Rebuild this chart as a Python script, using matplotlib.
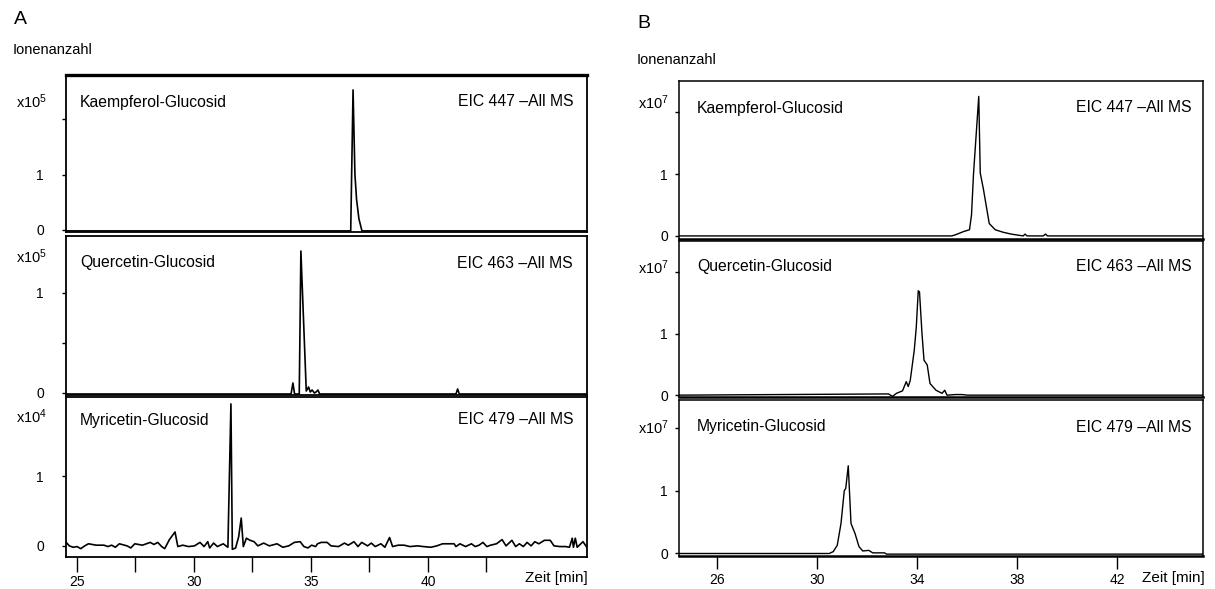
import matplotlib
matplotlib.use("Agg")
import matplotlib.pyplot as plt

plt.rcParams['font.family'] = ['Liberation Sans', 'DejaVu Sans']
plt.rcParams['mathtext.fontset'] = 'custom'
plt.rcParams['mathtext.rm'] = 'Liberation Sans'
plt.rcParams['mathtext.it'] = 'Liberation Sans'

# ---------------- data (panel A) ----------------
a_kae_t = [24.5, 36.70, 36.80, 36.88, 36.95, 37.05, 37.18, 46.9]
a_kae_y = [-0.02, -0.02, 2.53, 1.0, 0.55, 0.2, -0.02, -0.02]

a_que_t = [24.5, 34.15, 34.23, 34.30, 34.37, 34.50, 34.57, 34.80, 34.90, 34.97,
           35.05, 35.15, 35.22, 35.30, 35.37, 41.20, 41.27, 41.34, 46.9]
a_que_y = [-0.01, -0.01, 0.10, -0.01, -0.01, -0.01, 1.42, 0.02, 0.06, 0.01,
           0.03, 0.0, 0.01, 0.03, -0.01, -0.01, 0.04, -0.01, -0.01]

a_myr_t = [24.54, 24.67, 24.84, 25.00, 25.16, 25.33, 25.49, 25.82, 26.15, 26.32,
           26.48, 26.64, 26.81, 27.14, 27.30, 27.47, 27.80, 28.13, 28.29, 28.45,
           28.62, 28.75, 28.95, 29.19, 29.31, 29.52, 29.77, 30.02, 30.26, 30.43,
           30.59, 30.67, 30.84, 31.00, 31.25, 31.45, 31.58, 31.64, 31.78, 31.91,
           32.02, 32.11, 32.24, 32.40, 32.57, 32.73, 32.98, 33.22, 33.55, 33.80,
           34.05, 34.29, 34.54, 34.70, 34.87, 35.03, 35.20, 35.28, 35.44, 35.69,
           35.86, 36.18, 36.43, 36.60, 36.84, 37.01, 37.17, 37.42, 37.58, 37.75,
           37.99, 38.16, 38.36, 38.49, 38.73, 38.98, 39.23, 39.56, 39.80, 40.13,
           40.38, 40.63, 40.95, 41.12, 41.20, 41.37, 41.61, 41.86, 42.02, 42.19,
           42.35, 42.52, 42.68, 42.93, 43.17, 43.34, 43.59, 43.75, 43.91, 44.08,
           44.24, 44.41, 44.57, 44.74, 44.98, 45.23, 45.39, 45.64, 45.89, 46.05,
           46.17, 46.22, 46.30, 46.38, 46.63, 46.79, 46.88]
a_myr_y = [0.05, 0, -0.02, -0.01, -0.04, 0, 0.03, 0.01, 0.01, -0.01,
           0.01, -0.02, 0.03, 0, -0.03, 0.03, 0.01, 0.05, 0.02, 0.05,
           -0.01, -0.04, 0.09, 0.2, -0.01, 0.01, -0.01, 0, 0.05, -0.01,
           0.06, -0.03, 0.04, -0.01, 0.03, -0.02, 2.04, -0.05, -0.03, 0.13,
           0.4, -0.01, 0.11, 0.08, 0.06, 0, 0.04, 0, 0.03, -0.02,
           0, 0.05, 0.06, -0.01, -0.03, 0.01, -0.01, 0.03, 0.05, 0.05,
           0, -0.01, 0.04, 0.01, 0.06, -0.01, 0.05, 0, 0.04, -0.01,
           0.03, -0.02, 0.12, -0.01, 0.01, 0.01, -0.01, 0, -0.01, -0.02,
           0, 0.03, 0.03, 0.03, -0.01, 0.03, -0.01, 0.03, -0.01, 0.01,
           0.05, -0.01, 0.01, 0.03, 0.09, 0, 0.08, -0.01, 0.03, -0.01,
           0.05, 0, 0.06, 0.03, 0.08, 0.08, 0, -0.01, -0.01, -0.02,
           0.11, -0.02, 0.11, -0.02, 0.06, -0.02, -0.01]

# ---------------- data (panel B) ----------------
b_kae_t = [24.4, 35.39, 35.55, 35.86, 36.10, 36.18, 36.26, 36.47, 36.53, 36.66,
           36.89, 37.13, 37.44, 37.76, 38.08, 38.25, 38.32, 38.40, 38.71, 39.05,
           39.14, 39.22, 45.5]
b_kae_y = [0, 0, 0.02, 0.07, 0.10, 0.34, 1.0, 2.26, 1.02, 0.75,
           0.2, 0.10, 0.06, 0.03, 0.01, 0.0, 0.03, 0.0, 0.0, 0.0,
           0.03, 0.0, 0]

b_que_t = [24.4, 32.86, 33.02, 33.18, 33.42, 33.57, 33.65, 33.73, 33.89, 33.97,
           34.05, 34.10, 34.20, 34.28, 34.41, 34.52, 34.76, 35.00, 35.11, 35.20,
           35.55, 35.79, 36.02, 45.5]
b_que_y = [0, 0.02, -0.02, 0.03, 0.07, 0.22, 0.14, 0.24, 0.73, 1.1,
           1.7, 1.68, 1.0, 0.57, 0.49, 0.19, 0.08, 0.03, 0.08, 0.0,
           0.01, 0.01, 0, 0]

b_myr_t = [24.4, 30.49, 30.65, 30.81, 30.96, 31.09, 31.15, 31.25, 31.31, 31.36,
           31.52, 31.68, 31.83, 32.07, 32.23, 32.70, 32.78, 45.5]
b_myr_y = [0, 0, 0.03, 0.13, 0.48, 1.0, 1.04, 1.4, 0.9, 0.48,
           0.32, 0.11, 0.04, 0.05, 0.01, 0.01, -0.01, -0.01]

names = ["Kaempferol-Glucosid", "Quercetin-Glucosid", "Myricetin-Glucosid"]
eics = ["EIC 447 \u2013All MS", "EIC 463 \u2013All MS", "EIC 479 \u2013All MS"]
a_exp = ["5", "5", "4"]
b_exp = ["7", "7", "7"]

a_xticks = [25, 27.5, 30, 32.5, 35, 37.5, 40, 42.5]
a_xlabels = ["25", "", "30", "", "35", "", "40", ""]
b_xticks = [26, 30, 34, 38, 42]
b_xlabels = ["26", "30", "34", "38", "42"]

# ---------------- layout ----------------
W, H = 1215, 589
fig = plt.figure(figsize=(W / 100, H / 100), dpi=100)


def rect(l, t, r, b):
    return [l / W, 1 - b / H, (r - l) / W, (b - t) / H]


def fx(x):
    return x / W


def fy(y):
    return 1 - y / H


a_rows = [(75, 232), (236, 395), (397, 557)]
b_rows = [(81, 239), (241, 397), (400, 556)]
a_ylims = [(-0.04, 2.8), (-0.02, 1.57), (-0.16, 2.14)]
b_ylims = [(-0.05, 2.51), (-0.03, 2.51), (-0.04, 2.45)]
a_yticks = [([0, 1, 2], ["0", "1", ""]), ([0, 0.5, 1], ["0", "", "1"]), ([0, 1], ["0", "1"])]
b_yticks = [([0, 1, 2], ["0", "1", ""])] * 3

a_data = [(a_kae_t, a_kae_y), (a_que_t, a_que_y), (a_myr_t, a_myr_y)]
b_data = [(b_kae_t, b_kae_y), (b_que_t, b_que_y), (b_myr_t, b_myr_y)]

a_label_y = [102, 263, 420]
a_exp_y = [102, 257, 417]
b_label_y = [108, 267, 427]
b_exp_y = [103, 268, 428]

# Panel A
for i, ((t, b), (xs, ys)) in enumerate(zip(a_rows, a_data)):
    ax = fig.add_axes(rect(66, t, 587, b))
    ax.plot(xs, ys, color="black", lw=1.2, clip_on=True)
    ax.set_xlim(24.53, 46.8)
    ax.set_ylim(*a_ylims[i])
    ax.set_yticks(a_yticks[i][0])
    ax.set_yticklabels(a_yticks[i][1], fontsize=10)
    ax.tick_params(axis="y", direction="out", length=3, width=1, pad=13)
    for s in ax.spines.values():
        s.set_linewidth(1.3)
    if i == 0:
        ax.spines["top"].set_linewidth(2.4)
    if i == 2:
        ax.set_xticks(a_xticks)
        ax.set_xticklabels(a_xlabels, fontsize=10)
        ax.tick_params(axis="x", direction="out", length=11, width=1, pad=2)
    else:
        ax.set_xticks([])
    fig.text(fx(80), fy(a_label_y[i]), names[i], fontsize=11.3, ha="left", va="center")
    fig.text(fx(573), fy(a_label_y[i]), eics[i], fontsize=11.3, ha="right", va="center")
    fig.text(fx(47), fy(a_exp_y[i]), "x10$^{" + a_exp[i] + "}$", fontsize=10.5,
             ha="right", va="center")

fig.text(fx(588), fy(578), "Zeit [min]", fontsize=11, ha="right", va="center")
fig.text(fx(14), fy(20), "A", fontsize=14, ha="left", va="center")
fig.text(fx(13), fy(50), "Ionenanzahl", fontsize=10.5, ha="left", va="center")

# Panel B
for i, ((t, b), (xs, ys)) in enumerate(zip(b_rows, b_data)):
    ax = fig.add_axes(rect(679, t, 1203, b))
    ax.plot(xs, ys, color="black", lw=1.0)
    ax.set_xlim(24.48, 45.44)
    ax.set_ylim(*b_ylims[i])
    ax.set_yticks(b_yticks[i][0])
    ax.set_yticklabels(b_yticks[i][1], fontsize=10)
    ax.tick_params(axis="y", direction="out", length=3, width=1, pad=5)
    for s in ax.spines.values():
        s.set_linewidth(1.1)
    ax.spines["bottom"].set_linewidth(1.8)
    if i == 2:
        ax.set_xticks(b_xticks)
        ax.set_xticklabels(b_xlabels, fontsize=10)
        ax.tick_params(axis="x", direction="out", length=9, width=1, pad=3)
    else:
        ax.set_xticks([])
    fig.text(fx(697), fy(b_label_y[i]), names[i], fontsize=11.3, ha="left", va="center")
    fig.text(fx(1192), fy(b_label_y[i]), eics[i], fontsize=11.3, ha="right", va="center")
    fig.text(fx(669), fy(b_exp_y[i]), "x10$^{" + b_exp[i] + "}$", fontsize=10.5,
             ha="right", va="center")

fig.text(fx(1205), fy(578), "Zeit [min]", fontsize=11, ha="right", va="center")
fig.text(fx(637), fy(23), "B", fontsize=14, ha="left", va="center")
fig.text(fx(637), fy(60), "Ionenanzahl", fontsize=10.5, ha="left", va="center")

fig.savefig("out.png", dpi=100)
